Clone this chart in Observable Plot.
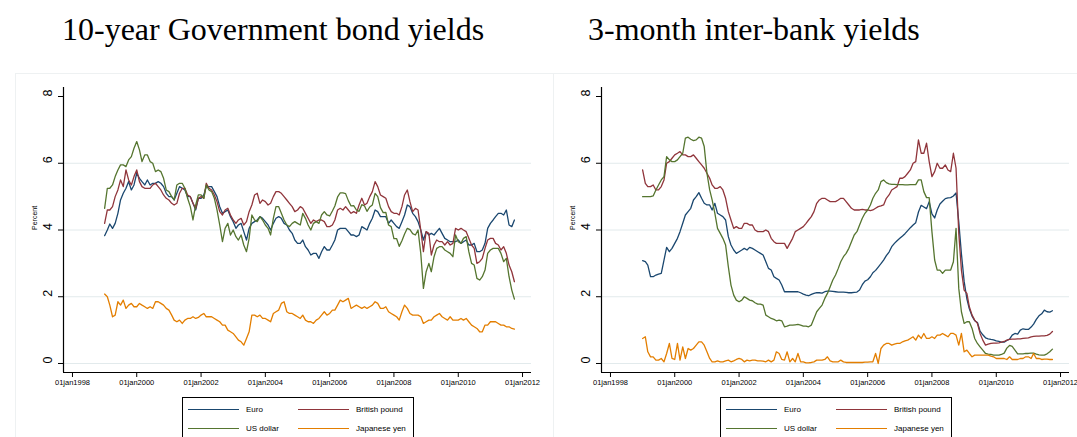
<!DOCTYPE html>
<html><head><meta charset="utf-8">
<script src="https://cdn.jsdelivr.net/npm/d3@7"></script>
<script src="https://cdn.jsdelivr.net/npm/@observablehq/plot@0.6"></script>
<style>
html,body{margin:0;padding:0;background:#fff;overflow:hidden;width:1077px;height:437px;}
.panel{position:absolute;top:0;width:538px;height:437px;}
.title{position:absolute;top:13px;font-family:"Liberation Serif",serif;font-size:32px;line-height:32px;white-space:nowrap;color:#000;}
.frame{position:absolute;left:15px;top:73px;width:540px;height:400px;border-top:1px solid #eef1f2;border-left:1px solid #eef1f2;}
.chart{position:absolute;left:0;top:70px;overflow:visible;}
.legend{position:absolute;left:182px;top:397px;width:230px;height:60px;border:1px solid #000;background:#fff;font-family:"Liberation Sans",sans-serif;font-size:8px;color:#000;}
.item{position:absolute;height:10px;line-height:10px;white-space:nowrap;}
.item span.s{position:absolute;left:0;top:4px;width:51px;height:1.4px;}
.item span.t{position:absolute;left:58px;top:0;}
</style></head>
<body>
<div id="root"></div>
<script>
// ---------- data ----------
const seriesNames = ["Euro", "British pound", "US dollar", "Japanese yen"];
const seriesColors = ["#1a476f", "#90353b", "#55752f", "#e37e00"];
const titles = ["10-year Government bond yields", "3-month inter-bank yields"];
const yTicks = [0, 2, 4, 6, 8];
const gridTicks = [0, 2, 4, 6];
const xTickYears = [1998, 2000, 2002, 2004, 2006, 2008, 2010, 2012];
// monthly, Jan 1999 .. Oct 2011
const bondEuro = [
 3.83,4.0,4.18,4.05,4.2,4.5,4.9,5.1,5.25,5.45,5.2,5.35,
 5.7,5.55,5.45,5.35,5.5,5.35,5.4,5.4,5.45,5.4,5.3,5.1,
 5.0,5.0,4.9,5.1,5.3,5.25,5.2,5.0,5.0,4.8,4.6,4.95,
 4.95,5.05,5.3,5.3,5.3,5.15,5.0,4.7,4.5,4.55,4.6,4.4,
 4.25,4.05,4.15,4.2,3.95,3.7,4.05,4.2,4.25,4.3,4.4,4.35,
 4.25,4.15,4.0,4.2,4.35,4.4,4.35,4.2,4.15,4.0,3.9,3.7,
 3.6,3.6,3.7,3.5,3.4,3.25,3.3,3.3,3.15,3.35,3.5,3.4,
 3.4,3.55,3.7,4.0,4.05,4.05,4.05,3.95,3.85,3.85,3.8,3.85,
 4.1,4.05,4.0,4.2,4.35,4.6,4.55,4.4,4.4,4.4,4.2,4.3,
 4.2,4.1,4.05,4.25,4.45,4.75,4.7,4.5,4.4,4.25,4.0,3.7,
 3.95,3.85,3.9,3.85,3.95,4.05,3.9,3.75,3.7,3.65,3.65,3.65,
 3.7,3.6,3.65,3.7,3.55,3.55,3.6,3.35,3.35,3.4,3.6,4.05,
 4.2,4.3,4.4,4.5,4.5,4.45,4.6,4.15,4.1,4.3];
const bondGBP = [
 4.2,4.6,4.6,4.7,5.0,5.2,5.5,5.3,5.8,5.5,5.35,5.6,
 5.8,5.45,5.3,5.25,5.25,5.25,5.35,5.4,5.3,5.2,5.05,4.95,
 4.9,4.8,4.75,4.8,5.1,5.25,5.25,5.05,5.0,4.8,4.65,4.95,
 5.0,4.95,5.4,5.25,5.2,5.05,4.85,4.55,4.45,4.6,4.65,4.45,
 4.3,4.2,4.3,4.35,4.15,4.25,4.55,4.75,5.05,5.1,4.8,4.9,
 4.85,4.75,4.8,5.0,5.15,5.15,5.1,5.0,4.9,4.8,4.7,4.55,
 4.6,4.7,4.65,4.5,4.35,4.2,4.3,4.25,4.3,4.3,4.25,4.1,
 4.1,4.15,4.3,4.6,4.65,4.6,4.7,4.6,4.5,4.55,4.5,4.75,
 4.95,4.75,4.8,5.0,5.15,5.45,5.3,5.05,5.0,4.95,4.7,4.55,
 4.5,4.5,4.45,4.7,5.05,5.2,4.85,4.55,4.65,4.6,4.0,3.35,
 3.95,3.9,3.25,3.55,3.7,3.65,3.65,3.55,3.65,3.55,3.6,4.05,
 4.0,4.05,4.0,3.95,3.75,3.55,3.45,3.0,3.05,3.15,3.45,3.7,
 3.75,3.75,3.6,3.55,3.4,3.5,3.3,2.95,2.75,2.45];
const bondUSD = [
 4.65,5.25,5.25,5.35,5.6,5.8,5.95,5.95,5.9,6.1,6.2,6.45,
 6.65,6.4,6.05,6.25,6.25,6.05,6.0,5.75,5.8,5.75,5.55,5.2,
 5.15,5.0,4.9,5.35,5.4,5.4,5.25,4.95,4.7,4.3,4.75,5.05,
 5.05,4.95,5.35,5.2,5.15,4.95,4.6,4.15,3.65,4.05,4.2,3.85,
 4.0,3.8,3.7,3.85,3.55,3.35,3.75,4.45,4.3,4.25,4.4,4.3,
 4.15,4.05,3.85,4.35,4.7,4.7,4.5,4.3,4.15,4.1,4.2,4.25,
 4.2,4.15,4.5,4.35,4.15,4.0,4.2,4.25,4.2,4.45,4.55,4.45,
 4.42,4.57,4.72,4.99,5.11,5.11,5.09,4.88,4.72,4.73,4.6,4.56,
 4.76,4.72,4.56,4.69,4.75,5.1,5.0,4.67,4.52,4.53,4.15,4.1,
 3.74,3.74,3.51,3.68,3.88,4.05,4.01,3.89,3.85,4.0,3.3,2.25,
 2.75,3.0,2.75,3.2,3.45,3.5,3.5,3.4,3.35,3.3,3.2,3.85,
 3.65,3.6,3.75,3.8,3.35,3.0,2.95,2.55,2.5,2.6,2.8,3.3,
 3.4,3.45,3.45,3.45,3.3,3.05,3.15,2.6,2.2,1.93];
const bondJPY = [
 2.08,2.0,1.75,1.4,1.45,1.85,1.75,1.9,1.65,1.75,1.8,1.7,
 1.7,1.8,1.75,1.7,1.65,1.7,1.65,1.85,1.85,1.8,1.75,1.65,
 1.6,1.45,1.3,1.25,1.3,1.2,1.3,1.35,1.35,1.4,1.35,1.38,
 1.45,1.5,1.4,1.4,1.4,1.35,1.3,1.25,1.15,1.15,1.0,0.95,
 0.9,0.8,0.7,0.65,0.55,0.75,0.95,1.45,1.45,1.4,1.45,1.35,
 1.35,1.3,1.25,1.5,1.55,1.6,1.8,1.85,1.55,1.5,1.5,1.45,
 1.4,1.35,1.45,1.3,1.25,1.25,1.2,1.3,1.35,1.45,1.55,1.45,
 1.5,1.6,1.6,1.75,1.9,1.85,1.9,1.95,1.65,1.7,1.75,1.7,
 1.65,1.7,1.65,1.7,1.75,1.85,1.8,1.65,1.65,1.7,1.55,1.5,
 1.45,1.4,1.3,1.55,1.75,1.65,1.5,1.45,1.45,1.45,1.4,1.2,
 1.25,1.3,1.3,1.4,1.45,1.5,1.4,1.35,1.3,1.4,1.3,1.3,
 1.3,1.35,1.3,1.35,1.25,1.15,1.1,1.05,0.95,0.95,1.15,1.15,
 1.25,1.25,1.25,1.2,1.15,1.15,1.1,1.1,1.05,1.03];
const ibEuro = [
 3.08,3.05,2.95,2.6,2.6,2.65,2.68,2.7,3.1,3.48,3.35,3.45,
 3.6,3.75,3.95,4.2,4.45,4.55,4.65,4.9,5.0,5.12,4.95,4.8,
 4.75,4.75,4.6,4.8,4.5,4.45,4.4,4.3,3.8,3.55,3.4,3.3,
 3.35,3.4,3.45,3.4,3.48,3.45,3.4,3.35,3.3,3.25,3.05,2.85,
 2.8,2.6,2.55,2.5,2.35,2.15,2.15,2.15,2.15,2.15,2.15,2.12,
 2.08,2.05,2.03,2.07,2.1,2.12,2.12,2.11,2.15,2.17,2.17,2.16,
 2.15,2.14,2.14,2.14,2.13,2.12,2.12,2.13,2.14,2.2,2.36,2.47,
 2.51,2.6,2.72,2.79,2.89,2.99,3.1,3.23,3.34,3.5,3.6,3.68,
 3.75,3.82,3.89,3.98,4.07,4.15,4.22,4.54,4.74,4.69,4.64,4.85,
 4.48,4.36,4.6,4.78,4.86,4.94,4.96,4.97,5.02,5.11,4.24,3.29,
 2.46,1.94,1.64,1.42,1.28,1.23,0.97,0.86,0.77,0.74,0.72,0.71,
 0.68,0.66,0.64,0.64,0.69,0.73,0.85,0.9,0.88,1.0,1.04,1.02,
 1.02,1.09,1.18,1.32,1.43,1.49,1.6,1.55,1.54,1.58];
const ibGBP = [
 5.8,5.4,5.3,5.3,5.35,5.2,5.2,5.3,5.5,6.0,6.05,6.15,
 6.25,6.3,6.35,6.25,6.25,6.2,6.2,6.25,6.15,6.05,5.95,5.85,
 5.7,5.55,5.35,5.25,5.25,5.3,5.2,4.95,4.55,4.3,4.05,4.1,
 4.05,4.05,4.2,4.2,4.15,4.15,4.0,3.95,3.95,3.95,4.0,3.95,
 3.75,3.65,3.6,3.6,3.6,3.6,3.45,3.6,3.75,3.95,4.0,4.05,
 4.1,4.2,4.3,4.4,4.55,4.8,4.9,4.95,4.95,4.9,4.85,4.85,
 4.85,4.9,4.95,4.95,4.85,4.75,4.65,4.6,4.6,4.6,4.62,4.6,
 4.6,4.58,4.6,4.65,4.7,4.72,4.75,4.95,5.05,5.2,5.25,5.3,
 5.55,5.55,5.6,5.7,5.8,6.0,6.05,6.7,6.3,6.3,6.6,6.05,
 5.6,5.75,6.0,5.85,5.85,5.95,5.8,5.75,6.3,5.85,3.9,2.8,
 2.2,2.1,1.7,1.45,1.3,1.2,0.9,0.7,0.55,0.58,0.6,0.61,
 0.61,0.62,0.64,0.66,0.7,0.72,0.73,0.73,0.74,0.74,0.75,0.76,
 0.77,0.8,0.81,0.82,0.82,0.83,0.83,0.84,0.88,0.96];
const ibUSD = [
 5.0,5.0,5.0,5.0,5.02,5.2,5.35,5.5,5.6,6.2,6.1,6.05,
 6.05,6.1,6.2,6.3,6.75,6.78,6.72,6.68,6.7,6.78,6.75,6.5,
 5.7,5.2,4.9,4.5,4.05,3.9,3.75,3.55,2.9,2.35,2.05,1.9,
 1.85,1.9,2.0,1.95,1.9,1.88,1.82,1.78,1.78,1.75,1.45,1.4,
 1.35,1.32,1.28,1.3,1.28,1.1,1.12,1.15,1.15,1.16,1.17,1.15,
 1.12,1.12,1.1,1.15,1.35,1.55,1.65,1.75,1.95,2.1,2.3,2.5,
 2.65,2.85,3.05,3.2,3.3,3.45,3.65,3.85,3.95,4.15,4.35,4.5,
 4.6,4.75,4.95,5.1,5.2,5.45,5.5,5.42,5.38,5.37,5.37,5.36,
 5.36,5.36,5.35,5.35,5.36,5.36,5.36,5.5,5.5,5.15,4.97,4.97,
 3.95,3.1,2.8,2.8,2.7,2.8,2.8,2.8,3.05,4.05,2.25,1.55,
 1.2,1.25,1.25,1.05,0.75,0.6,0.5,0.4,0.3,0.28,0.27,0.25,
 0.25,0.25,0.27,0.31,0.46,0.54,0.51,0.4,0.29,0.29,0.29,0.3,
 0.3,0.31,0.31,0.28,0.26,0.25,0.25,0.29,0.35,0.43];
const ibJPY = [
 0.75,0.8,0.35,0.2,0.2,0.1,0.1,0.15,0.05,0.3,0.6,0.15,
 0.12,0.6,0.1,0.5,0.15,0.45,0.4,0.45,0.55,0.65,0.65,0.55,
 0.35,0.15,0.05,0.05,0.08,0.05,0.05,0.08,0.1,0.05,0.08,0.12,
 0.15,0.12,0.05,0.1,0.08,0.1,0.1,0.08,0.08,0.07,0.05,0.1,
 0.05,0.1,0.35,0.3,0.12,0.1,0.35,0.05,0.15,0.05,0.3,0.05,
 0.05,0.02,0.02,0.03,0.05,0.1,0.1,0.1,0.12,0.2,0.08,0.05,
 0.05,0.05,0.1,0.05,0.03,0.03,0.03,0.03,0.03,0.03,0.03,0.04,
 0.04,0.05,0.05,0.3,0.0,0.45,0.55,0.6,0.6,0.55,0.58,0.6,
 0.6,0.65,0.68,0.7,0.75,0.8,0.7,0.85,0.75,0.9,0.75,0.75,
 0.8,0.75,0.85,0.85,0.9,0.85,0.8,0.9,0.9,0.85,0.55,0.9,
 0.35,0.4,0.3,0.2,0.25,0.25,0.25,0.25,0.25,0.25,0.22,0.2,
 0.15,0.15,0.15,0.15,0.12,0.2,0.12,0.12,0.12,0.15,0.15,0.2,
 0.2,0.15,0.3,0.15,0.15,0.12,0.13,0.13,0.12,0.12];

const months = d3.utcMonth.range(new Date(Date.UTC(1999,0,1)), new Date(Date.UTC(2011,10,1)));
const panels = [
  {title: titles[0], values: [bondEuro, bondGBP, bondUSD, bondJPY], left: 0, titleLeft: 62},
  {title: titles[1], values: [ibEuro, ibGBP, ibUSD, ibJPY], left: 538, titleLeft: 50}
];
const xMin = new Date(Date.UTC(1997,8,21));
const xMax = new Date(Date.UTC(2012,3,12));
const yMin = -0.27, yMax = 8.27;

const root = document.getElementById("root");
for (const p of panels) {
  const div = document.createElement("div");
  div.className = "panel";
  div.style.left = p.left + "px";
  root.appendChild(div);
  const frame = document.createElement("div"); frame.className = "frame"; div.appendChild(frame);
  const t = document.createElement("div"); t.className = "title"; t.style.left = p.titleLeft + "px"; t.textContent = p.title; div.appendChild(t);

  const data = [];
  p.values.forEach((vals, si) => vals.forEach((v, i) => data.push({date: months[i], value: v, name: seriesNames[si]})));

  const chart = Plot.plot({
    width: 538, height: 330,
    marginLeft: 63, marginRight: 7, marginTop: 17, marginBottom: 28,
    style: {fontFamily: "Liberation Sans, Arial, sans-serif", background: "transparent", color: "#000", overflow: "visible"},
    x: {type: "utc", domain: [xMin, xMax], label: null},
    y: {domain: [yMin, yMax], label: null},
    color: {domain: seriesNames, range: seriesColors},
    marks: [
      Plot.ruleY(gridTicks, {stroke: "#e2eaec", strokeWidth: 1}),
      Plot.line(data, {x: "date", y: "value", z: "name", stroke: "name", strokeWidth: 1.3}),
      Plot.ruleX([xMin], {stroke: "#000", strokeWidth: 1.2}),
      Plot.ruleY([yMin], {stroke: "#000", strokeWidth: 1.2}),
      Plot.axisY(yTicks, {tickSize: 5, tickFormat: () => "", stroke: "#000", label: null}),
      Plot.text(yTicks, {y: d => d, text: d => String(d), frameAnchor: "left", dx: -16, rotate: -90, fontSize: 12.5, fill: "#000"}),
      Plot.axisX(xTickYears.map(y => new Date(Date.UTC(y,0,1))), {tickSize: 5, tickPadding: 2, fontSize: 7.5, stroke: "#000", fill: "#000", label: null, tickFormat: d => "01jan" + d.getUTCFullYear()}),
      Plot.text(["Percent"], {frameAnchor: "left", dx: -29, rotate: -90, fontSize: 7, fill: "#000", text: d => d})
    ]
  });
  chart.classList.add("chart");
  chart.style.position = "absolute"; chart.style.left = "0px"; chart.style.top = "70px";
  div.appendChild(chart);

  const lg = document.createElement("div"); lg.className = "legend";
  seriesNames.forEach((n, i) => {
    const it = document.createElement("div"); it.className = "item";
    it.style.left = (i % 2 === 0 ? 5 : 115) + "px";
    it.style.top = (i < 2 ? 7 : 26) + "px";
    const s = document.createElement("span"); s.className = "s"; s.style.background = seriesColors[i];
    const tx = document.createElement("span"); tx.className = "t"; tx.textContent = n;
    it.appendChild(s); it.appendChild(tx); lg.appendChild(it);
  });
  div.appendChild(lg);
}
</script>
</body></html>
